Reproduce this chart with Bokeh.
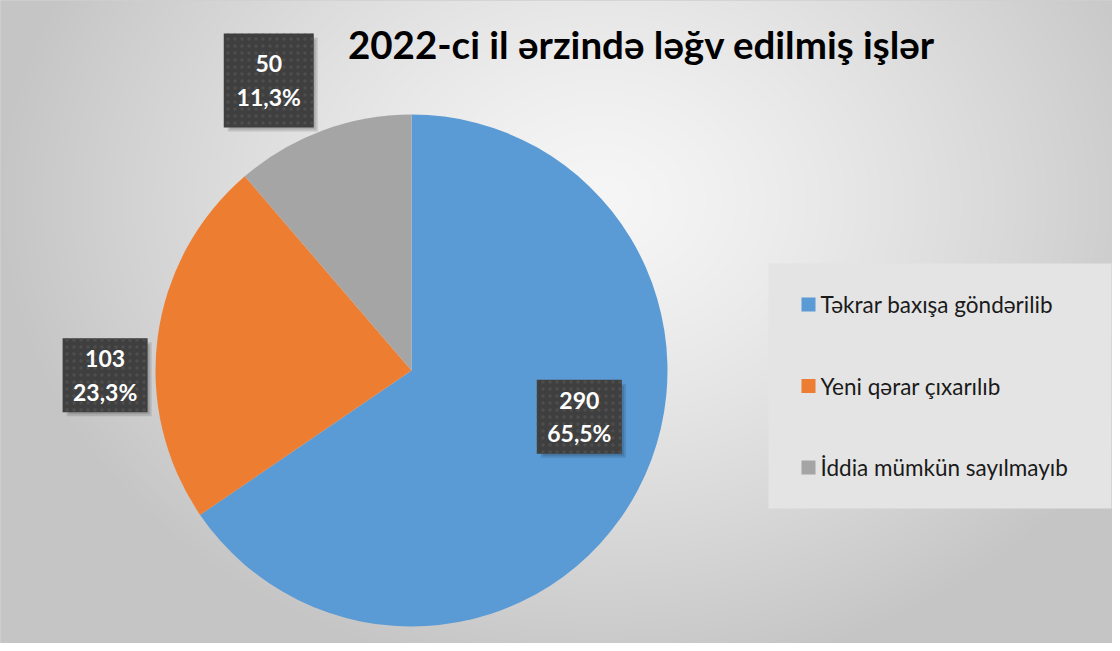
import numpy as np
from bokeh.plotting import figure
from bokeh.models import Range1d, ColumnDataSource
from bokeh.core.properties import value
from bokeh.embed import file_html
from bokeh.resources import INLINE

# ---- data ----
title_text = "2022-ci il ərzində ləğv edilmiş işlər"
categories = ["Təkrar baxışa göndərilib", "Yeni qərar çıxarılıb", "İddia mümkün sayılmayıb"]
values = [290, 103, 50]
colors = ["#5B9BD5", "#ED7D31", "#A5A5A5"]

# ---- layout / style ----
W, H = 1112, 643
CX, CY, R = 411, 273, 256
label_angle_deg = [-15.4, 180.9, 116.2]
label_rfac = [0.68, 1.197, 1.263]
label_box_w = [85, 85, 90]
label_box_h = [74, 74, 94]
LEG_X0, LEG_X1, LEG_Y0, LEG_Y1 = 768, 1111, 135, 380
LEG_FIRST_Y, LEG_STEP, LEG_MARK_X, LEG_TEXT_X = 339, 81.5, 808, 820
FONT = "Lato"

p = figure(width=W, height=H, x_range=Range1d(0, W), y_range=Range1d(0, H),
           output_backend="svg", toolbar_location=None,
           x_axis_type=None, y_axis_type=None, min_border=0)
p.title.text = ""
p.xgrid.visible = False
p.ygrid.visible = False
p.outline_line_color = "#d0d0d0"
p.background_fill_color = "#dedede"
p.border_fill_color = "#ffffff"

# background gradient
gw, gh = 556, 322
xs = (np.arange(gw) + 0.5) * W / gw
ys = (np.arange(gh) + 0.5) * H / gh
X, Y = np.meshgrid(xs, ys)
r = np.sqrt(((X - 600) / 600.0) ** 2 + ((Y - 443) / 480.0) ** 2)
v = 0.965 - 0.19 * np.clip(r, 0, 1) ** 1.3
g = (v * 255).astype(np.uint32)
img = (np.uint32(255) << 24) | (g << 16) | (g << 8) | g
p.image_rgba(image=[img], x=0, y=0, dw=W, dh=H)

# pie
vals = np.array(values, dtype=float)
total = vals.sum()
frac = vals / total
cum = np.concatenate([[0], np.cumsum(frac)[:-1]])
start = np.pi / 2 - 2 * np.pi * cum
end = start - 2 * np.pi * frac
src = ColumnDataSource(dict(start=start, end=end, color=colors, cat=categories))
wr = p.wedge(x=CX, y=CY, radius=R, start_angle="start", end_angle="end",
             direction="clock", fill_color="color", line_color=None, source=src)

# data labels
ang = np.deg2rad(label_angle_deg)
lx = CX + R * np.array(label_rfac) * np.cos(ang)
ly = CY + R * np.array(label_rfac) * np.sin(ang)
bw = np.array(label_box_w, dtype=float)
bh = np.array(label_box_h, dtype=float)
pct = [("%.1f" % (f * 100)).replace(".", ",") + "%" for f in frac]
lsrc = ColumnDataSource(dict(x=lx, y=ly, w=bw, h=bh, w2=bw - 4, h2=bh - 4,
                             sx=lx + 4, sy=ly - 4,
                             ty1=ly + 16.5, ty2=ly - 16.5,
                             v=[str(x) for x in values], pct=pct))
p.rect(x="sx", y="sy", width="w", height="h", source=lsrc,
       fill_color="black", fill_alpha=0.12, line_color=None)
p.rect(x="sx", y="sy", width="w2", height="h2", source=lsrc,
       fill_color="black", fill_alpha=0.12, line_color=None)
p.rect(x="x", y="y", width="w", height="h", source=lsrc,
       fill_color="#3f3f3f", line_color=None,
       hatch_pattern="dot", hatch_color="#4e4e4e", hatch_scale=7, hatch_weight=1.5)
p.text(x="x", y="ty1", text="v", source=lsrc, text_color="white",
       text_font=value(FONT), text_font_style="bold", text_font_size="23px",
       text_align="center", text_baseline="middle")
p.text(x="x", y="ty2", text="pct", source=lsrc, text_color="white",
       text_font=value(FONT), text_font_style="bold", text_font_size="23px",
       text_align="center", text_baseline="middle")

# title
p.text(x=[641], y=[600], text=[title_text], text_color="#000000",
       text_font=value(FONT), text_font_style="bold", text_font_size="38.5px",
       text_align="center", text_baseline="middle")

# legend (drawn manually)
p.quad(left=[LEG_X0], right=[LEG_X1], bottom=[LEG_Y0], top=[LEG_Y1],
       fill_color="#e4e4e4", line_color=None)
n = len(categories)
leg_y = [LEG_FIRST_Y - i * LEG_STEP for i in range(n)]
legsrc = ColumnDataSource(dict(y=leg_y, color=colors, cat=categories,
                               mx=[LEG_MARK_X] * n, tx=[LEG_TEXT_X] * n))
p.rect(x="mx", y="y", width=14, height=14, fill_color="color", line_color=None,
       source=legsrc)
p.text(x="tx", y="y", text="cat", source=legsrc, text_color="#1a1a1a",
       text_font=value(FONT), text_font_size="22.5px",
       text_align="left", text_baseline="middle")

open("out.html", "w").write(file_html(p, INLINE))
